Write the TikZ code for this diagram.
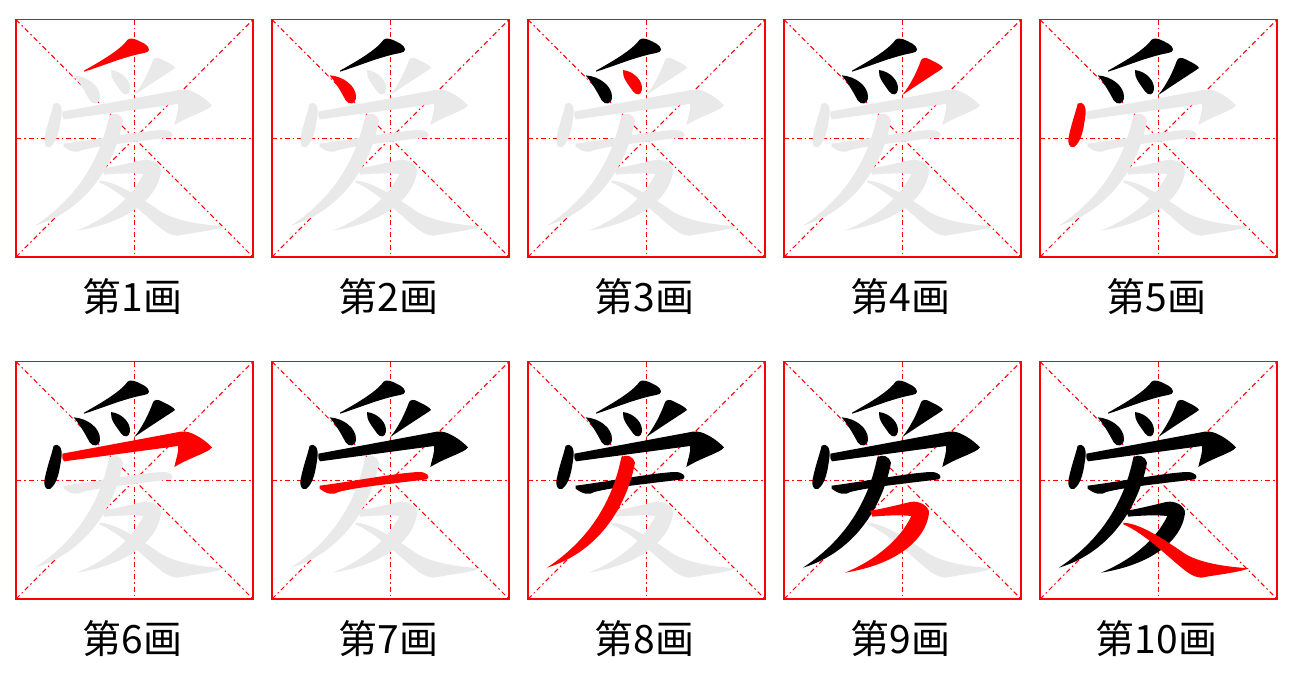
\documentclass[tikz,border=0pt]{standalone}
\usepackage{fontspec}
\newfontfamily\cjk{Noto Sans CJK SC}
\definecolor{ghost}{RGB}{233,233,233}
\tikzset{
 frame/.style={draw=red, line width=1.4pt},
 guide/.style={draw=red, line width=1.05pt, dash pattern=on 5pt off 3pt on 1.5pt off 3pt},
 lbl/.style={font=\cjk\fontsize{39}{42}\selectfont, text=black, inner sep=0pt, anchor=center}
}
\newcommand\Sk[2]{%
\ifcase#1\or
\fill[#2] (210,158) .. controls (270,124) and (320,94) .. (341,65) .. controls (350,57) and (366,63) .. (391,77) .. controls (411,90) and (409,103) .. (390,105) .. controls (330,116) and (260,146) .. (210,161) -- cycle;
\or
\fill[#2] (179,172) .. controls (222,175) and (258,205) .. (258,236) .. controls (258,259) and (238,263) .. (227,247) .. controls (213,221) and (199,196) .. (179,172) -- cycle;
\or
\fill[#2] (291,156) .. controls (327,161) and (350,190) .. (348,214) .. controls (346,233) and (330,233) .. (321,220) .. controls (305,197) and (288,178) .. (291,156) -- cycle;
\or
\fill[#2] (361,231) .. controls (386,200) and (405,160) .. (417,127) .. controls (421,118) and (432,118) .. (443,124) .. controls (463,134) and (480,142) .. (483,150) .. controls (468,161) and (420,191) .. (361,231) -- cycle;
\or
\fill[#2] (119,257) .. controls (134,247) and (147,264) .. (142,295) .. controls (137,330) and (131,371) .. (108,387) .. controls (94,391) and (88,375) .. (92,358) .. controls (99,320) and (111,290) .. (119,257) -- cycle;
\or
\fill[#2] (145,281) -- (500,215) .. controls (530,209) and (573,240) .. (594,262) .. controls (586,277) and (530,291) .. (481,321) .. controls (485,300) and (495,276) .. (492,258) -- (150,304) .. controls (145,298) and (143,290) .. (145,281) -- cycle;
\or
\fill[#2] (149,377) .. controls (250,364) and (380,339) .. (445,336) .. controls (471,335) and (483,350) .. (471,358) .. controls (400,367) and (260,381) .. (205,396) .. controls (190,406) and (171,403) .. (149,386) -- cycle;
\or
\fill[#2] (286,292) .. controls (300,281) and (323,289) .. (327,308) .. controls (306,422) and (230,572) .. (63,623) .. controls (158,560) and (252,460) .. (286,292) -- cycle;
\or
\fill[#2] (264,452) .. controls (300,447) and (350,434) .. (385,426) .. controls (413,420) and (443,440) .. (441,460) .. controls (431,542) and (340,614) .. (189,638) .. controls (272,604) and (352,544) .. (388,468) .. controls (355,464) and (300,467) .. (271,470) -- cycle;
\or
\fill[#2] (256,488) .. controls (300,490) and (360,525) .. (436,578) .. controls (480,608) and (560,620) .. (633,625) .. controls (600,638) and (530,645) .. (490,653) .. controls (460,651) and (440,630) .. (416,611) .. controls (370,571) and (310,516) .. (256,493) -- cycle;
\fi}
\begin{document}
\begin{tikzpicture}[x=1pt,y=-1pt]
\fill[white] (0,0) rectangle (1301,691);
\useasboundingbox (0,0) rectangle (1301,691);
\foreach \k in {1,...,10}{
  \pgfmathtruncatemacro\cc{mod(\k-1,5)}
  \pgfmathtruncatemacro\rr{div(\k-1,5)}
  \pgfmathsetmacro\xo{14+256*\cc}
  \pgfmathsetmacro\yo{18+342*\rr}
  \begin{scope}[shift={(\xo,\yo)}, scale=1/3]
    \draw[guide] (361.5,5) -- (361.5,717);
    \draw[guide] (6,361) -- (717,361);
    \draw[guide] (6,5) -- (717,717);
    \draw[guide] (6,717) -- (717,5);
    \foreach \n in {1,...,10}{\ifnum\n>\k\relax \Sk{\n}{ghost}\fi}
    \foreach \n in {1,...,10}{\ifnum\n<\k\relax \Sk{\n}{black}\fi}
    \Sk{\k}{red}
    \draw[frame] (6,5) rectangle (717,717);
  \end{scope}
  \node[lbl] (L\k) at (\xo+118.5,\yo+279) {第{\k}画};
}
\end{tikzpicture}
\end{document}
